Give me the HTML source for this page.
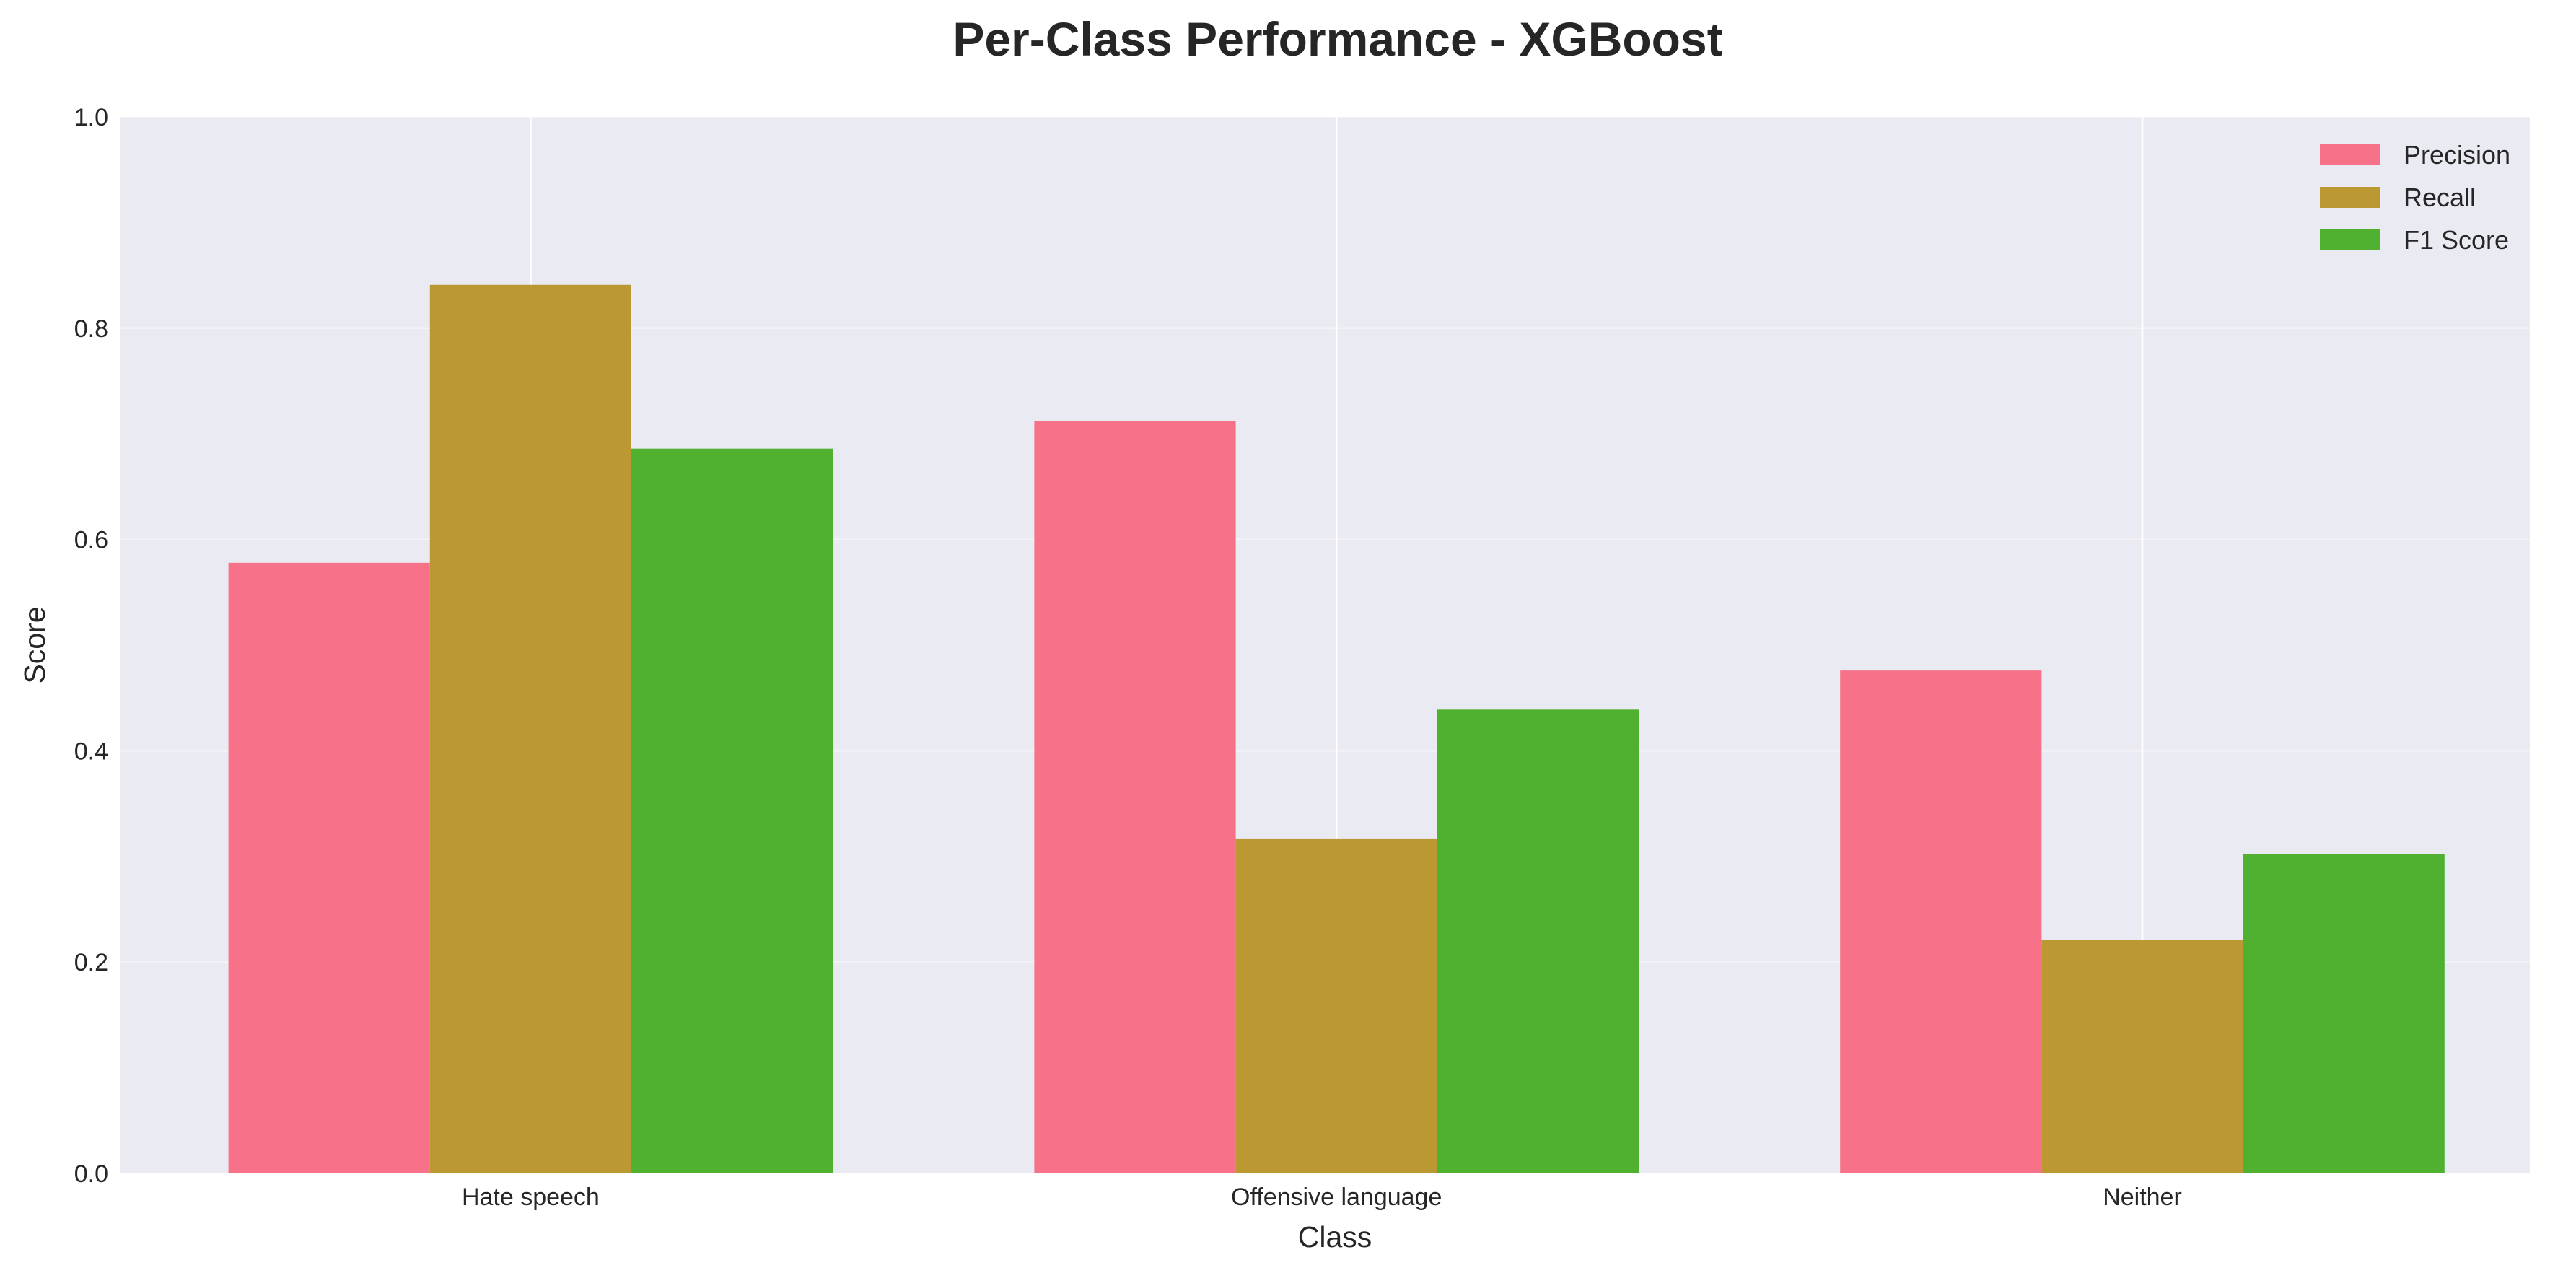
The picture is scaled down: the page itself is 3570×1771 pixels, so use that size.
<!DOCTYPE html>
<html><head><meta charset="utf-8"><style>
html,body{margin:0;padding:0;background:#fff;}
svg{display:block;font-family:"Liberation Sans",Arial,sans-serif;}
</style></head><body>
<svg id="chart" width="3570" height="1771" viewBox="0 0 3570 1771" xmlns="http://www.w3.org/2000/svg">
<rect x="0" y="0" width="3570" height="1771" fill="#ffffff"/>
<text x="1854" y="77" text-anchor="middle" font-size="66" font-weight="bold" fill="#262626">Per-Class Performance - XGBoost</text>
<rect x="166" y="162" width="3340" height="1464" fill="#eaeaf2"/>
<g id="grid"></g>
<g id="bars"></g>
<g id="ticks"></g>
<text x="1850" y="1728" text-anchor="middle" font-size="41" fill="#262626">Class</text>
<text transform="translate(62,894) rotate(-90)" text-anchor="middle" font-size="41" fill="#262626">Score</text>
<g id="legend"></g>
</svg>
<script>
const categories = ["Hate speech", "Offensive language", "Neither"];
const seriesNames = ["Precision", "Recall", "F1 Score"];
const precision = [0.578, 0.712, 0.476];
const recall = [0.841, 0.317, 0.221];
const f1 = [0.686, 0.439, 0.302];
const yTicks = [0.0, 0.2, 0.4, 0.6, 0.8, 1.0];
const seriesColors = ["#f77189", "#bb9832", "#50b131"];

const NS = "http://www.w3.org/2000/svg";
const L = 166, R = 3506, T = 162, B = 1626;
const xs = v => 735.4 + v * 1116.8;
const ys = v => B - v * (B - T);
const barW = 0.25;
function mk(tag, attrs, parent) {
  const e = document.createElementNS(NS, tag);
  for (const k in attrs) e.setAttribute(k, attrs[k]);
  parent.appendChild(e);
  return e;
}
const grid = document.getElementById("grid");
yTicks.forEach(t => {
  const l = mk("line", {x1: L, x2: R, y1: ys(t), y2: ys(t), stroke: "#ffffff", "stroke-width": 2.5, "stroke-opacity": 0.4}, grid);
  
  
});
categories.forEach((c, i) => {
  const l = mk("line", {x1: xs(i), x2: xs(i), y1: T, y2: B, stroke: "#ffffff", "stroke-width": 2.5}, grid);
  
  
});
const bars = document.getElementById("bars");
const allSeries = [precision, recall, f1];
allSeries.forEach((vals, s) => {
  vals.forEach((v, i) => {
    const x0 = xs(i + (s - 1.5) * barW), x1 = xs(i + (s - 0.5) * barW);
    const r = mk("rect", {x: x0, y: ys(v), width: x1 - x0, height: ys(0) - ys(v), fill: seriesColors[s]}, bars);
    
    
  });
});
const ticks = document.getElementById("ticks");
yTicks.forEach(t => {
  const e = mk("text", {x: 150, y: ys(t) + 12, "text-anchor": "end", "font-size": 34, fill: "#262626"}, ticks);
  e.textContent = t.toFixed(1);
  
  
});
categories.forEach((c, i) => {
  const e = mk("text", {x: xs(i), y: 1670, "text-anchor": "middle", "font-size": 34, fill: "#262626"}, ticks);
  e.textContent = c;
  
  
});
const legend = document.getElementById("legend");
seriesNames.forEach((n, s) => {
  const y = 200 + s * 59;
  const r = mk("rect", {x: 3215, y: y, width: 84, height: 29, fill: seriesColors[s]}, legend);
  
  
  const t = mk("text", {x: 3331, y: y + 27, "font-size": 36, fill: "#262626"}, legend);
  t.textContent = n;
  
  
});
</script>
</body></html>
